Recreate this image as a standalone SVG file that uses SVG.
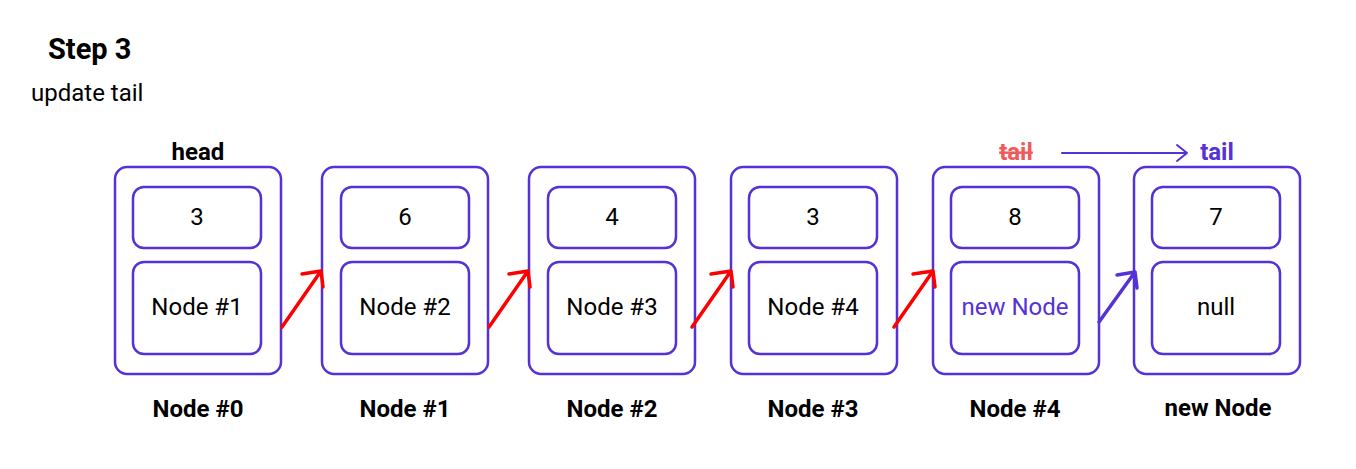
<svg xmlns="http://www.w3.org/2000/svg" width="1356" height="469" viewBox="0 0 1356 469">
<defs>
<style>
.outer{fill:#fff;stroke:#5531d8;stroke-width:2.5}
.inner{fill:#fff;stroke:#5531d8;stroke-width:2.5}
.val{font-family:Roboto,"Liberation Sans",sans-serif;font-size:24px;fill:#000;text-anchor:middle;dominant-baseline:central}
.lbl{font-family:Roboto,"Liberation Sans",sans-serif;font-size:24px;font-weight:bold;fill:#000;text-anchor:middle;dominant-baseline:central}
.red{stroke:#ff0000;stroke-width:3.5;fill:none;stroke-linecap:round;stroke-linejoin:round}
.pur{stroke:#5531d8;stroke-width:3.5;fill:none;stroke-linecap:round;stroke-linejoin:round}
</style>
</defs>
<rect width="1356" height="469" fill="#fff"/>
<text x="48" y="59" font-family="Roboto,'Liberation Sans',sans-serif" font-size="29" font-weight="bold" fill="#000">Step 3</text>
<text x="31" y="101" font-family="Roboto,'Liberation Sans',sans-serif" font-size="24" fill="#000">update tail</text>

<g id="node0">
<text class="lbl" x="198" y="152">head</text>
<rect class="outer" x="115" y="167" width="166" height="207" rx="12"/>
<rect class="inner" x="133" y="187" width="128" height="61" rx="11"/>
<rect class="inner" x="133" y="262" width="128" height="92" rx="11"/>
<text class="val" x="197" y="217">3</text>
<text class="val" x="197" y="307">Node #1</text>
<text class="lbl" x="198" y="409">Node #0</text>
</g>
<g id="node1">
<rect class="outer" x="322" y="167" width="166" height="207" rx="12"/>
<rect class="inner" x="341" y="187" width="128" height="61" rx="11"/>
<rect class="inner" x="341" y="262" width="128" height="92" rx="11"/>
<text class="val" x="405" y="217">6</text>
<text class="val" x="405" y="307">Node #2</text>
<text class="lbl" x="405" y="409">Node #1</text>
</g>
<g id="node2">
<rect class="outer" x="529" y="167" width="166" height="207" rx="12"/>
<rect class="inner" x="548" y="187" width="128" height="61" rx="11"/>
<rect class="inner" x="548" y="262" width="128" height="92" rx="11"/>
<text class="val" x="612" y="217">4</text>
<text class="val" x="612" y="307">Node #3</text>
<text class="lbl" x="612" y="409">Node #2</text>
</g>
<g id="node3">
<rect class="outer" x="731" y="167" width="166" height="207" rx="12"/>
<rect class="inner" x="749" y="187" width="128" height="61" rx="11"/>
<rect class="inner" x="749" y="262" width="128" height="92" rx="11"/>
<text class="val" x="813" y="217">3</text>
<text class="val" x="813" y="307">Node #4</text>
<text class="lbl" x="813" y="409">Node #3</text>
</g>
<g id="node4">
<text x="1016" y="152" font-family="Roboto,'Liberation Sans',sans-serif" font-size="24" font-weight="bold" fill="#f05a5a" text-anchor="middle" dominant-baseline="central" text-decoration="line-through">tail</text>
<rect class="outer" x="933" y="167" width="166" height="207" rx="12"/>
<rect class="inner" x="951" y="187" width="128" height="61" rx="11"/>
<rect class="inner" x="951" y="262" width="128" height="92" rx="11"/>
<text class="val" x="1015" y="217">8</text>
<text class="val" x="1015" y="307" style="fill:#5531d8">new Node</text>
<text class="lbl" x="1015" y="409">Node #4</text>
</g>
<g id="node5">
<text x="1217" y="152" font-family="Roboto,'Liberation Sans',sans-serif" font-size="24" font-weight="bold" fill="#5531d8" text-anchor="middle" dominant-baseline="central">tail</text>
<rect class="outer" x="1134" y="167" width="166" height="207" rx="12"/>
<rect class="inner" x="1152" y="187" width="128" height="61" rx="11"/>
<rect class="inner" x="1152" y="262" width="128" height="92" rx="11"/>
<text class="val" x="1216" y="217">7</text>
<text class="val" x="1216" y="307">null</text>
<text class="lbl" x="1218" y="408">new Node</text>
</g>
<g id="connectors">
<path class="red" d="M282 327 L321 271 M302 274 L321 271 L323 287"/>
<path class="red" d="M489 327 L528 271 M509 274 L528 271 L530 287"/>
<path class="red" d="M692 327 L731 271 M711 274 L731 271 L733 287"/>
<path class="red" d="M894 327 L933 271 M913 274 L933 271 L935 287"/>
<path class="pur" d="M1099 322 L1135 272 M1117 275 L1135 272 L1137 288"/>
<path d="M1062 153 L1187 153 M1177 145 L1187 153 L1177 161" stroke="#5531d8" stroke-width="2" fill="none" stroke-linecap="round" stroke-linejoin="round"/>
</g>
</svg>
